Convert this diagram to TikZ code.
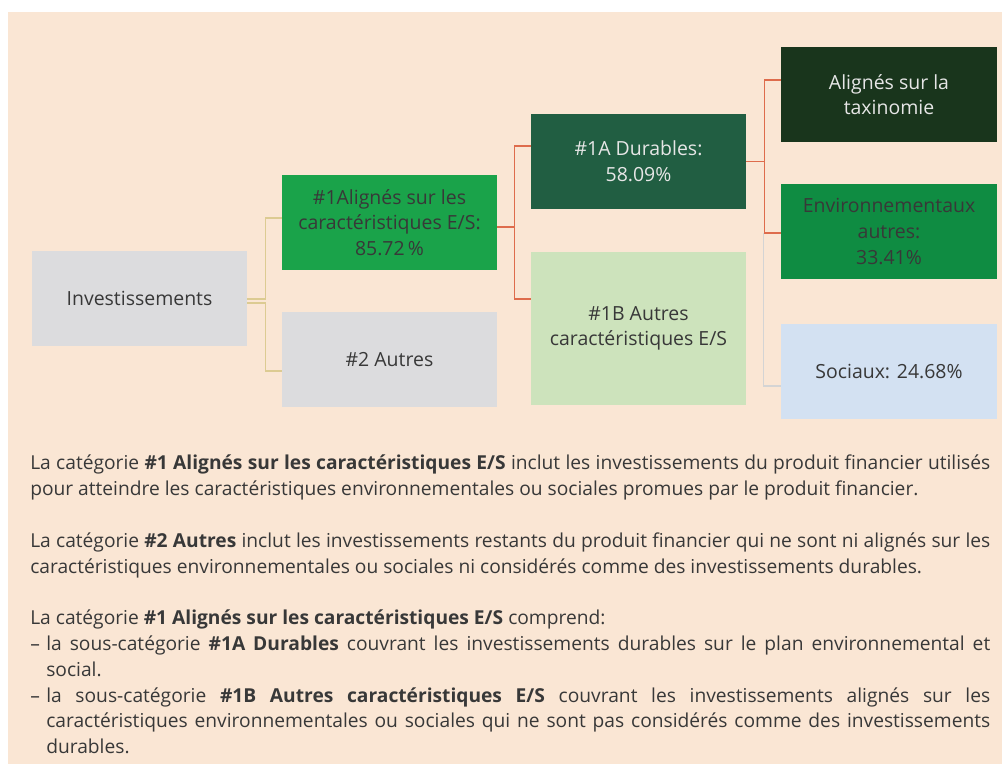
\documentclass[tikz,border=0pt]{standalone}
\usepackage{fontspec}
\setmainfont{Open Sans}
\usetikzlibrary{calc}
\definecolor{bgpeach}{HTML}{FAE6D4}
\definecolor{boxgray}{HTML}{DCDCDE}
\definecolor{grnmid}{HTML}{1AA34A}
\definecolor{grndark}{HTML}{215E42}
\definecolor{grnlight}{HTML}{CDE3BC}
\definecolor{grndeep}{HTML}{19351C}
\definecolor{grnenv}{HTML}{0F8C42}
\definecolor{bluelight}{HTML}{D3E1F2}
\definecolor{txtdark}{HTML}{383838}
\definecolor{txtlight}{HTML}{E6E6E6}
\definecolor{lntan}{HTML}{DCCB92}
\definecolor{lnorange}{HTML}{DE6C4C}
\definecolor{lngray}{HTML}{D4D4D4}
\begin{document}
\begin{tikzpicture}[x=0.75pt,y=-0.75pt,
  box/.style={rectangle, inner sep=2pt, minimum width=161.25pt, minimum height=71.25pt,
    align=center, font=\fontsize{14.6}{19.2}\selectfont, text=txtdark},
  tanline/.style={draw=lntan, line width=1.1pt},
  orline/.style={draw=lnorange, line width=1.1pt},
  grline/.style={draw=lngray, line width=1.1pt}]
\useasboundingbox (0,0) rectangle (1002,764);
\fill[bgpeach] (8,12) rectangle (1002,764);

\node[box, fill=boxgray] (inv) at (139.5,298.5) {Investissements};
\node[box, fill=grnmid] (n1) at (389.5,222.5) {\#1Alignés sur les\\caractéristiques E/S:\\85.72\,\%};
\node[box, fill=boxgray] (n2) at (389.5,359.5) {\#2 Autres};
\node[box, fill=grndark, text=txtlight] (n1a) at (638.5,161.5) {\#1A Durables:\\58.09\%};
\node[box, fill=grnlight, minimum height=114.75pt] (n1b) at (638.5,328.5) {\#1B Autres\\caractéristiques E/S};
\node[box, fill=grndeep, text=txtlight, minimum width=162pt] (tax) at (889,94.5) {Alignés sur la\\taxinomie};
\node[box, fill=grnenv, minimum width=162pt] (env) at (889,231.5) {Environnementaux\\autres:\\33.41\%};
\node[box, fill=bluelight, minimum width=162pt] (soc) at (889,371.5) {Sociaux: 24.68\%};

\draw[tanline] ($(inv.east)+(0,0.5)$) -- ++(18,0) |- ($(n1.west)+(0,-4.5)$);
\draw[tanline] ($(inv.east)+(0,4.5)$) -- ++(18,0) |- ($(n2.west)+(0,11.5)$);
\draw[orline] ($(n1.east)+(0,4.5)$) -- ++(17,0) |- ($(n1a.west)+(0,-15.5)$);
\draw[orline] ($(n1.east)+(0,4.5)$) -- ++(17,0) |- ($(n1b.west)+(0,-29.5)$);
\draw[orline] (n1a.east) -- ++(18,0) |- ($(tax.west)+(0,-14.5)$);
\draw[orline] (n1a.east) -- ++(18,0) |- ($(env.west)+(0,1.5)$);
\coordinate (j3) at ($(env.west)+(-17,1.5)$);
\draw[grline] (j3) |- ($(soc.west)+(0,14.5)$);

\node[anchor=north west, text width=720pt, align=justify, inner sep=0pt, text=txtdark,
  font=\fontsize{14.4}{19.35}\selectfont] (body) at (30,455) {%
\setlength{\parindent}{0pt}%
La catégorie \textbf{\#1 Alignés sur les caractéristiques E/S} inclut les investissements du produit financier utilisés\linebreak
pour atteindre les caractéristiques environnementales ou sociales promues par le produit financier.\par
\vskip19.35pt
La catégorie \textbf{\#2 Autres} inclut les investissements restants du produit financier qui ne sont ni alignés sur les\linebreak
caractéristiques environnementales ou sociales ni considérés comme des investissements durables.\par
\vskip19.35pt
La catégorie \textbf{\#1 Alignés sur les caractéristiques E/S} comprend:\par
\hangindent=12pt\hangafter=1\makebox[12pt][l]{–}la sous-catégorie \textbf{\#1A Durables} couvrant les investissements durables sur le plan environnemental et\linebreak
social.\par
\hangindent=12pt\hangafter=1\makebox[12pt][l]{–}la sous-catégorie \textbf{\#1B Autres caractéristiques E/S} couvrant les investissements alignés sur les\linebreak
caractéristiques environnementales ou sociales qui ne sont pas considérés comme des investissements\linebreak
durables.\par};
\end{tikzpicture}
\end{document}
